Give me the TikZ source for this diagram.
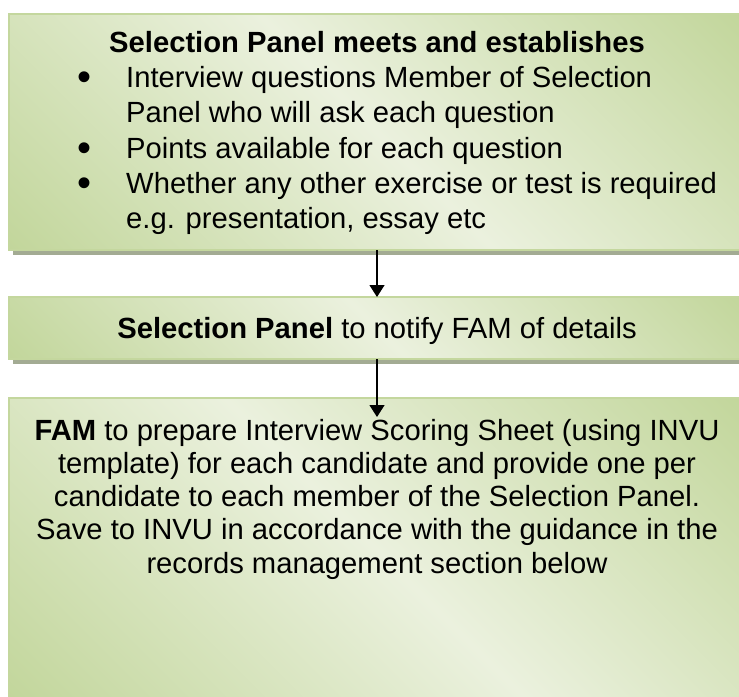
\documentclass[tikz,border=0pt]{standalone}
\usepackage{fontspec}
\usepackage{graphicx}
\setmainfont{Liberation Sans}
\usetikzlibrary{arrows.meta,shadows}

\definecolor{gdark}{RGB}{194,214,155}
\definecolor{glight}{RGB}{235,241,222}
\definecolor{gedge}{RGB}{196,215,158}
\definecolor{shadowgray}{RGB}{163,171,147}

% diagonal fill: darker in two opposite corners, pale along the other diagonal
\pgfdeclarehorizontalshading{panelfill}{100bp}{%
  color(0bp)=(gdark); color(14.6bp)=(gdark); color(50bp)=(glight);
  color(85.4bp)=(gdark); color(100bp)=(gdark)}

\newcommand\bodytext{\fontsize{29.2bp}{33.5bp}\selectfont}
% list marker, enlarged and set on the text baseline
\newcommand\listdot{\raisebox{-3bp}{\smash{\scalebox{1.37}{•}}}}
% stacked lines with a fixed baseline distance; the first line carries the baseline
\newcommand\leftlines[2]{\vtop{\baselineskip=#1\lineskiplimit=-100bp\halign{##\hfil\cr#2\crcr}}}
\newcommand\centerlines[2]{\vtop{\baselineskip=#1\lineskiplimit=-100bp\halign{\hfil##\hfil\cr#2\crcr}}}

\begin{document}
\begin{tikzpicture}[x=1bp,y=-1bp,
  panel/.style={draw=gedge, line width=1.5bp, shading=panelfill, shading angle=45,
    inner sep=0pt, outer sep=0pt, minimum width=736bp},
  panelshadow/.style={drop shadow={shadow xshift=4bp, shadow yshift=-5bp,
    fill=shadowgray, opacity=1}},
  arr/.style={line width=1.3bp, -{Triangle[width=15bp,length=12bp]}},
  lbl/.style={inner sep=0pt, anchor=base, font=\bodytext, text=black}]
\useasboundingbox (0,0) rectangle (739,697);
\clip (0,0) rectangle (739,697);

% panels
\node[panel, panelshadow, minimum height=236bp] (b1) at (377,132) {};
\node[panel, panelshadow, minimum height=62bp] (b2) at (377,328) {};
\node[panel, minimum height=304bp] (b3) at (377,550) {};

% first panel: heading and bullet list
\node[lbl] (h1) at (377,53) {\textbf{Selection Panel meets and establishes}};
\node[lbl] (marks) at (85,88) {\centerlines{35bp}{\listdot\cr\cr\listdot\cr\listdot}};
\node[lbl, anchor=base west] (items) at (126,88)
  {\leftlines{35bp}{Interview questions Member of Selection\cr
    Panel who will ask each question\cr
    Points available for each question\cr
    Whether any other exercise or test is required\cr
    e.g. presentation, essay etc}};

% second panel
\node[lbl] (h2) at (377,338) {\textbf{Selection Panel} to notify FAM of details};

% third panel
\node[lbl] (h3) at (377,440) {\centerlines{33.25bp}{%
  \textbf{FAM} to prepare Interview Scoring Sheet (using INVU\cr
  template) for each candidate and provide one per\cr
  candidate to each member of the Selection Panel.\cr
  Save to INVU in accordance with the guidance in the\cr
  records management section below}};

% connectors
\draw[arr] (b1.south) -- (b2.north);
\draw[arr] (b2.south) -- ([yshift=-19bp]b3.north);
\end{tikzpicture}
\end{document}
